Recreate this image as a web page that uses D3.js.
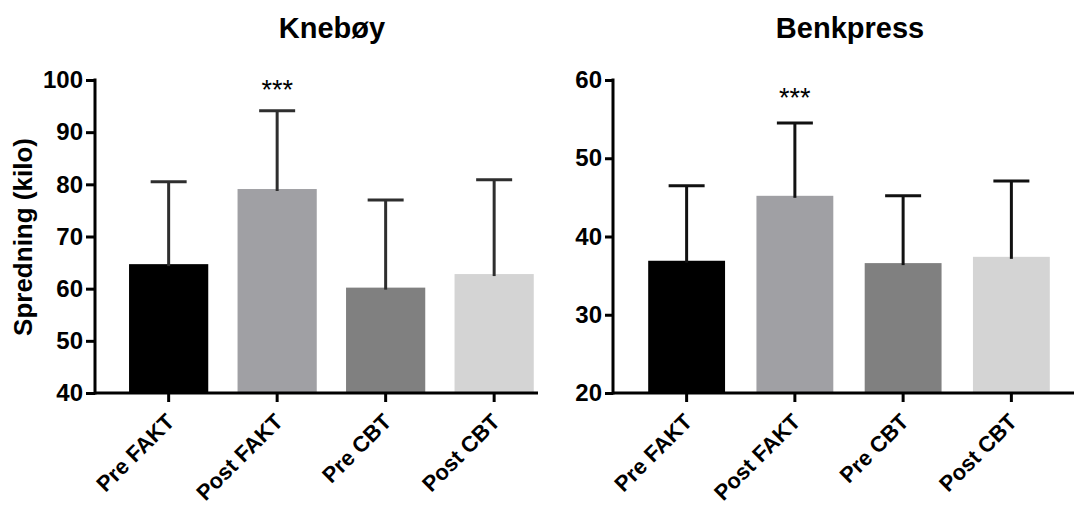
<!DOCTYPE html>
<html>
<head>
<meta charset="utf-8">
<script src="https://cdnjs.cloudflare.com/ajax/libs/d3/7.8.5/d3.min.js"></script>
<style>
body { margin: 0; background: #fff; }
text { font-family: "Liberation Sans", Arial, sans-serif; }
</style>
</head>
<body>
<script>
// groups and values
var groups = ["Pre FAKT", "Post FAKT", "Pre CBT", "Post CBT"];
var colors = ["#000000", "#a0a0a4", "#808080", "#d4d4d4"];

var kneMean = [64.7, 79.1, 60.2, 62.8];
var kneSD   = [15.8, 15.0, 16.8, 18.1];
var kneTicks = [40, 50, 60, 70, 80, 90, 100];

var benkMean = [36.9, 45.2, 36.6, 37.4];
var benkSD   = [9.6, 9.3, 8.6, 9.7];
var benkTicks = [20, 30, 40, 50, 60];

var stars = ["", "***", "", ""];

var W = 1074, H = 506;
var svg = d3.select("body").append("svg")
    .attr("width", W)
    .attr("height", H);

function panel(opt) {
  var g = svg.append("g");
  var y = d3.scaleLinear().domain(opt.domain).range([393, 80]);
  var x = d3.scaleBand().domain(groups)
      .range(opt.band)
      .paddingInner(opt.pad)
      .paddingOuter(opt.pad / 2);

  // bars
  g.selectAll("rect.bar")
    .data(opt.mean)
    .enter().append("rect")
    .attr("class", "bar")
    .attr("x", function(d, i) { return x(groups[i]); })
    .attr("y", function(d) { return y(d); })
    .attr("width", x.bandwidth())
    .attr("height", function(d) { return y(opt.domain[0]) - y(d); })
    .attr("fill", function(d, i) { return colors[i]; });

  // error bars (upper only)
  var eb = g.selectAll("g.err")
    .data(opt.mean)
    .enter().append("g")
    .attr("class", "err");
  eb.append("line")
    .attr("x1", function(d, i) { return x(groups[i]) + x.bandwidth() / 2; })
    .attr("x2", function(d, i) { return x(groups[i]) + x.bandwidth() / 2; })
    .attr("y1", function(d) { return y(d) + 2; })
    .attr("y2", function(d, i) { return y(d + opt.sd[i]); })
    .attr("stroke", opt.errColor)
    .attr("stroke-width", 3);
  eb.append("line")
    .attr("x1", function(d, i) { return x(groups[i]) + x.bandwidth() / 2 - 18; })
    .attr("x2", function(d, i) { return x(groups[i]) + x.bandwidth() / 2 + 18; })
    .attr("y1", function(d, i) { return y(d + opt.sd[i]); })
    .attr("y2", function(d, i) { return y(d + opt.sd[i]); })
    .attr("stroke", opt.errColor)
    .attr("stroke-width", 3);

  // significance
  g.selectAll("text.star")
    .data(stars)
    .enter().append("text")
    .attr("class", "star")
    .attr("x", function(d, i) { return x(groups[i]) + x.bandwidth() / 2; })
    .attr("y", opt.starY)
    .attr("text-anchor", "middle")
    .attr("font-size", 27)
    .text(function(d) { return d; });

  // y axis
  var yAxis = d3.axisLeft(y).tickValues(opt.ticks).tickSize(opt.tick).tickPadding(3);
  var ya = g.append("g")
    .attr("transform", "translate(" + opt.x0 + ",0)")
    .call(yAxis);
  ya.select(".domain").attr("stroke", "#000").attr("stroke-width", 3)
    .attr("d", "M0,394.5V78.5");
  ya.selectAll(".tick line").attr("stroke", "#000").attr("stroke-width", 3);
  ya.selectAll(".tick text")
    .attr("font-size", 24).attr("font-weight", "bold")
    .attr("font-family", "'Liberation Sans', Arial, sans-serif")
    .attr("fill", "#000");

  // x axis
  var xAxis = d3.axisBottom(x).tickSize(9).tickFormat("");
  var xa = g.append("g")
    .attr("transform", "translate(0,393)")
    .call(xAxis);
  xa.select(".domain").attr("stroke", "#000").attr("stroke-width", 3)
    .attr("d", "M" + opt.x0 + ",0H" + opt.x1);
  xa.selectAll(".tick line").attr("stroke", "#000").attr("stroke-width", 3);

  g.selectAll("text.xlab")
    .data(groups)
    .enter().append("text")
    .attr("class", "xlab")
    .attr("text-anchor", "end")
    .attr("font-size", 22)
    .attr("font-weight", "bold")
    .attr("transform", function(d) {
      return "translate(" + (x(d) + x.bandwidth() / 2 + 7) + ",423) rotate(-45)";
    })
    .text(function(d) { return d; });

  // title
  g.append("text")
    .attr("x", opt.titleX)
    .attr("y", 38)
    .attr("text-anchor", "middle")
    .attr("font-size", 29)
    .attr("font-weight", "bold")
    .text(opt.title);
}

panel({
  title: "Knebøy", titleX: 332,
  domain: [40, 100], ticks: kneTicks, tick: 9,
  mean: kneMean, sd: kneSD, errColor: "#2e2e2e",
  x0: 95, x1: 538,
  band: [114.4, 548.4], pad: 0.27,
  starY: 99
});

panel({
  title: "Benkpress", titleX: 850,
  domain: [20, 60], ticks: benkTicks, tick: 8,
  mean: benkMean, sd: benkSD, errColor: "#111",
  x0: 613, x1: 1074,
  band: [632.5, 1065.5], pad: 0.29,
  starY: 107
});

// shared y label
svg.append("text")
  .attr("transform", "translate(32,237) rotate(-90)")
  .attr("text-anchor", "middle")
  .attr("font-size", 26)
  .attr("font-weight", "bold")
  .text("Spredning (kilo)");
</script>
</body>
</html>
